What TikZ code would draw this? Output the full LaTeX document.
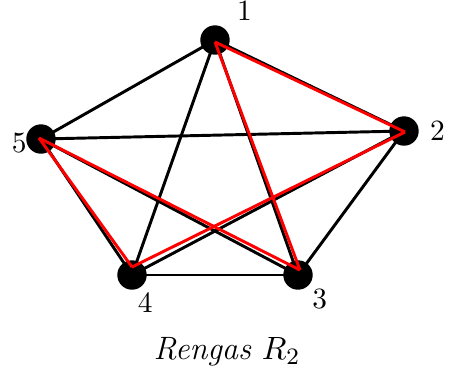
\documentclass[tikz,border=0pt]{standalone}
\usepackage{tikz}
\usetikzlibrary{backgrounds}

\begin{document}
\begin{tikzpicture}[
    x=0.34pt, y=-0.34pt,
    vertex/.style={circle, fill=black, inner sep=0pt, minimum size=10pt},
    vlabel/.style={inner sep=1pt, font=\normalsize},
    edge/.style={line width=1pt, black},
    redge/.style={line width=1pt, red}
]
\useasboundingbox (0,0) rectangle (450,372);

% Vertices
\node[vertex, label={[vlabel, label distance=3pt]40:1}] (n1) at (215,40) {};
\node[vertex, label={[vlabel, label distance=2.5pt]right:2}] (n2) at (404,131) {};
\node[vertex, label={[vlabel]-45:3}] (n3) at (298,275) {};
\node[vertex, label={[vlabel, label distance=-0.5pt]-80:4}] (n4) at (132,275) {};
\node[vertex, label={[vlabel, label distance=-1.5pt, yshift=-1.2pt]left:5}] (n5) at (41,139) {};

% Red end points
\coordinate (r1) at (215,42);
\coordinate (r2) at (405,132);
\coordinate (r3) at (300,270);
\coordinate (r4) at (132,267);
\coordinate (r5) at (39,138);

% Black edges (complete graph)
\begin{scope}[on background layer]
    \foreach \a/\b in {1/2, 1/3, 1/4, 1/5, 2/3, 2/4, 2/5, 3/4, 3/5, 4/5}
        \draw[edge] (n\a.center) -- (n\b.center);
\end{scope}

% Red edges (cycle 1-2-4-5-3-1)
\foreach \a/\b in {1/2, 2/4, 4/5, 5/3, 3/1}
    \draw[redge] (r\a) -- (r\b);

% Caption
\node[font=\fontsize{11}{13}\selectfont] (caption) at (227,352) {\textit{Rengas} $R_2$};
\end{tikzpicture}
\end{document}
